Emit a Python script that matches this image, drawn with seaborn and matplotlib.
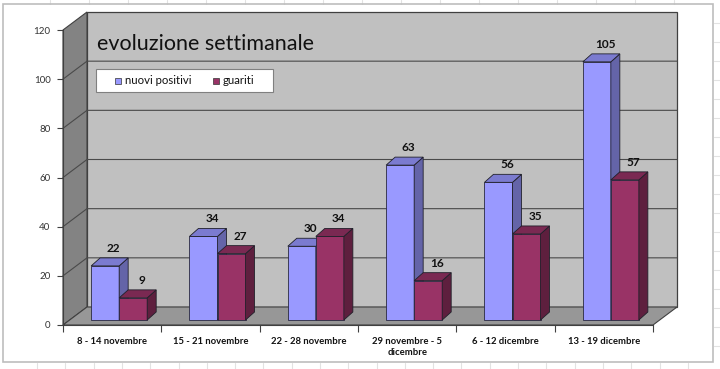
import numpy as np
import pandas as pd
import matplotlib
matplotlib.use("Agg")
import matplotlib.pyplot as plt
import seaborn as sns
from matplotlib.patches import Polygon, Rectangle
from matplotlib.transforms import IdentityTransform, ScaledTranslation
from matplotlib.lines import Line2D

# ---------------- data ----------------
weeks = ["8 - 14 novembre", "15 - 21 novembre", "22 - 28 novembre",
         "29 novembre - 5\ndicembre", "6 - 12 dicembre", "13 - 19 dicembre"]
nuovi_positivi = [22, 34, 30, 63, 56, 105]
guariti = [9, 27, 34, 16, 35, 57]
series_names = ["nuovi positivi", "guariti"]
y_ticks = [0, 20, 40, 60, 80, 100, 120]
title = "evoluzione settimanale"

df = pd.DataFrame({
    "week": weeks * 2,
    "value": nuovi_positivi + guariti,
    "serie": [series_names[0]] * len(weeks) + [series_names[1]] * len(weeks),
})

# ---------------- style ----------------
sns.set_style("white")
plt.rcParams["font.family"] = ["Lato", "DejaVu Sans"]

face = {"nuovi positivi": "#9999FF", "guariti": "#993366"}
side = {"nuovi positivi": "#6464A8", "guariti": "#5E1F3E"}
top = {"nuovi positivi": "#7B7BD0", "guariti": "#7A2952"}

W, H = 720, 369
DPI = 100
fig = plt.figure(figsize=(W / DPI, H / DPI), dpi=DPI)
fig.patch.set_facecolor("white")

# front plane of the 3D plot: x 63..653, y 30..325 (image pixels)
ax = fig.add_axes([63 / W, (H - 325) / H, 590 / W, 295 / H])
ax.set_facecolor("none")
ax.set_zorder(2)

sns.barplot(data=df, x="week", y="value", hue="serie",
            palette=[face[s] for s in series_names], width=0.57,
            saturation=1, ax=ax, legend=False,
            edgecolor="#2a2a40", linewidth=0.6)
bars = list(ax.patches)

ax.set_xlim(-0.5, len(weeks) - 0.5)
ax.set_ylim(0, 120)
ax.set_xlabel("")
ax.set_ylabel("")

# depth offsets in pixels
WALL_DX, WALL_DY = 24, 18
BAR_OX, BAR_OY = 7, 5
BAR_DX, BAR_DY = 9, 8

def D(x, y):
    return ax.transData.transform((x, y))

ident = IdentityTransform()
x0d, x1d = -0.5, len(weeks) - 0.5

# side wall
p0 = D(x0d, 0); p1 = D(x0d, 120)
sidewall = Polygon([p0, p0 + [WALL_DX, WALL_DY], p1 + [WALL_DX, WALL_DY], p1],
                   closed=True, transform=ident, facecolor="#838383",
                   edgecolor="#404040", linewidth=0.8, clip_on=False, zorder=0.5)
fig.add_artist(sidewall)
# floor
f1 = D(x1d, 0)
floor = Polygon([p0, f1, f1 + [WALL_DX, WALL_DY], p0 + [WALL_DX, WALL_DY]],
                closed=True, transform=ident, facecolor="#979797",
                edgecolor="#404040", linewidth=0.8, clip_on=False, zorder=0.5)
fig.add_artist(floor)
# back wall
b0 = p0 + [WALL_DX, WALL_DY]
b1 = D(x1d, 120) + [WALL_DX, WALL_DY]
back = Polygon([b0, [b1[0], b0[1]], b1, [b0[0], b1[1]]], closed=True,
               transform=ident, facecolor="#C0C0C0", edgecolor="#404040",
               linewidth=0.9, clip_on=False, zorder=0.4)
fig.add_artist(back)
# gridlines on the walls
for v in y_ticks[1:-1]:
    a = D(x0d, v)
    fig.add_artist(Line2D([a[0], a[0] + WALL_DX, b1[0]],
                          [a[1], a[1] + WALL_DY, a[1] + WALL_DY],
                          transform=ident, color="#4a4a4a", linewidth=0.8,
                          zorder=0.6))

# ---------------- 3D bars ----------------
off = ScaledTranslation(BAR_OX / DPI, BAR_OY / DPI, fig.dpi_scale_trans)
for i, bar in enumerate(bars):
    s = series_names[i // len(weeks)]
    zo = 5 + i // len(weeks)
    bar.set_transform(ax.transData + off)
    bar.set_zorder(zo)
    bar.set_clip_on(False)
    xa, ya = D(bar.get_x(), 0) + [BAR_OX, BAR_OY]
    xb, yb = D(bar.get_x() + bar.get_width(), bar.get_height()) + [BAR_OX, BAR_OY]
    sp = Polygon([[xb, ya], [xb + BAR_DX, ya + BAR_DY], [xb + BAR_DX, yb + BAR_DY], [xb, yb]],
                 closed=True, transform=ident, facecolor=side[s],
                 edgecolor="#20202a", linewidth=0.6, zorder=zo)
    tp = Polygon([[xa, yb], [xb, yb], [xb + BAR_DX, yb + BAR_DY], [xa + BAR_DX, yb + BAR_DY]],
                 closed=True, transform=ident, facecolor=top[s],
                 edgecolor="#20202a", linewidth=0.6, zorder=zo)
    ax.add_artist(sp)
    ax.add_artist(tp)
    sp.set_clip_on(False)
    tp.set_clip_on(False)
    ax.annotate(f"{int(round(bar.get_height()))}",
                xy=(bar.get_x() + bar.get_width() / 2, bar.get_height()),
                xytext=(BAR_OX + 8.5, BAR_OY + 17.5), textcoords="offset pixels",
                ha="center", va="center", fontsize=8.5, fontweight="bold",
                color="#111111", zorder=10, annotation_clip=False)

# ---------------- axes ----------------
for sp_name in ["top", "right"]:
    ax.spines[sp_name].set_visible(False)
for sp_name in ["left", "bottom"]:
    ax.spines[sp_name].set_color("#404040")
    ax.spines[sp_name].set_linewidth(0.8)
    ax.spines[sp_name].set_zorder(1)

ax.set_yticks(y_ticks)
ax.set_yticklabels([str(v) for v in y_ticks], fontsize=7, color="#333333")
ax.tick_params(axis="y", direction="out", length=4, width=0.8, color="#404040", pad=5, left=True)
ax.set_xticks(range(len(weeks)))
ax.set_xticklabels(weeks, fontsize=6.8, fontweight="bold", color="#111111", linespacing=1.2)
ax.tick_params(axis="x", which="major", length=0, pad=9)
ax.set_xticks(np.arange(len(weeks) + 1) - 0.5, minor=True)
ax.tick_params(axis="x", which="minor", direction="out", length=5, width=0.8, color="#404040", bottom=True)
for lab in ax.get_xticklabels():
    lab.set_va("top")

# title
fig.text(97 / W, 1 - 50 / H, title, fontsize=15.5, color="#111111",
         ha="left", va="baseline", zorder=10)

# legend (drawn as a boxed key in figure pixels)
def FP(x, y):
    return (x / W, 1 - y / H)

fig.add_artist(Rectangle(FP(96, 92), 177 / W, 23 / H, transform=fig.transFigure,
                         facecolor="white", edgecolor="#808080", linewidth=0.8, zorder=3))
for name, sx, tx in zip(series_names, [115, 213], [125, 223]):
    fig.add_artist(Rectangle(FP(sx, 84), 6 / W, 6 / H, transform=fig.transFigure,
                             facecolor=face[name], edgecolor="#333333", linewidth=0.5, zorder=4))
    fig.text(*FP(tx, 81), name, fontsize=8.2, color="#111111", ha="left", va="center", zorder=4)

# chart border and faint spreadsheet grid
fig.add_artist(Rectangle((3 / W, 1 - 362 / H), 710 / W, 358 / H, transform=fig.transFigure,
                         fill=False, edgecolor="#BDBDBD", linewidth=1.2, zorder=0.1))
for xg in np.arange(50, 713, 39):
    fig.add_artist(Line2D([xg / W, xg / W], [1 - 0 / H, 1 - 4 / H], transform=fig.transFigure,
                          color="#E2E2E2", linewidth=0.8, zorder=0))
for xg in np.arange(37, 713, 28.3):
    fig.add_artist(Line2D([xg / W, xg / W], [1 - 363 / H, 0], transform=fig.transFigure,
                          color="#E2E2E2", linewidth=0.8, zorder=0))
for yg in np.arange(23, 362, 19):
    fig.add_artist(Line2D([714 / W, 1], [1 - yg / H, 1 - yg / H], transform=fig.transFigure,
                          color="#E2E2E2", linewidth=0.8, zorder=0))

fig.savefig("out.png", dpi=DPI, facecolor="white")
